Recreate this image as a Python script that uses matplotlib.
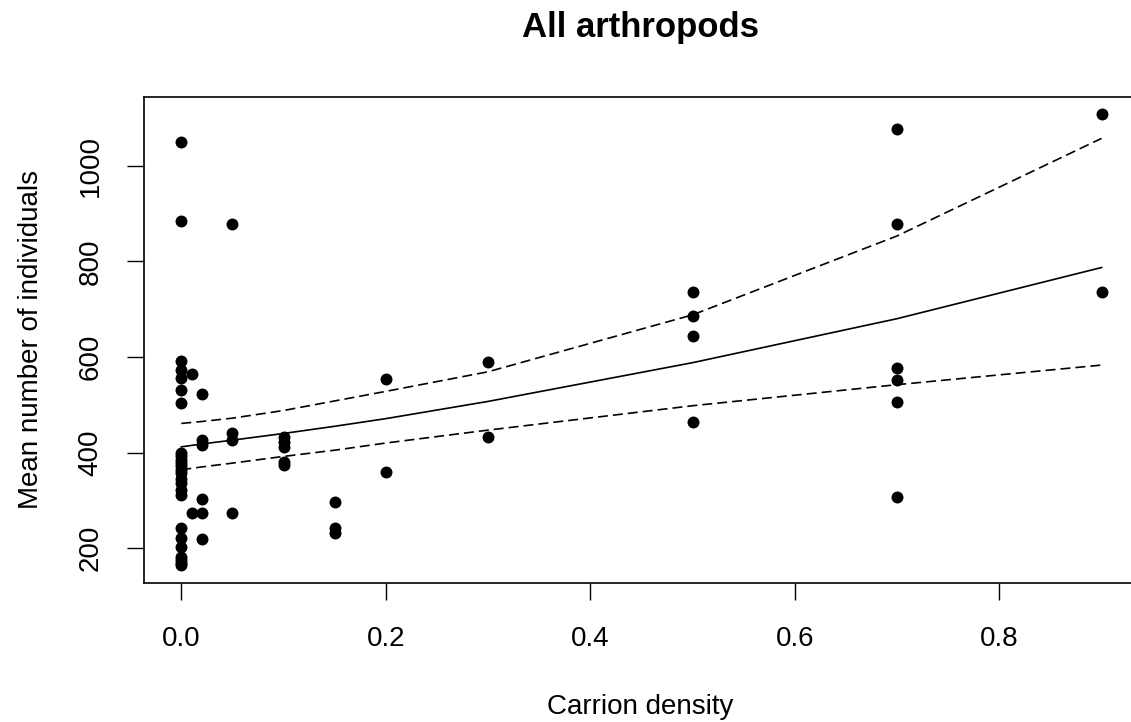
"""All arthropods vs carrion density, with fitted curve and CI."""
import matplotlib.pyplot as plt

plt.rcParams['font.family'] = ['Liberation Sans', 'DejaVu Sans']

# observed points (carrion density, mean number of individuals)
density = [0.0] * 25 + [0.01] * 2 + [0.02] * 6 + [0.05] * 4 + [0.1] * 5 \
    + [0.15] * 3 + [0.2] * 2 + [0.3] * 2 + [0.5] * 4 + [0.7] * 6 + [0.9] * 2
individuals = [
    # 0.0
    1050, 884, 592, 573, 555, 531, 503, 400, 392, 385, 378, 371, 364, 357,
    345, 336, 322, 311, 242, 221, 203, 182, 169, 165, 175,
    # 0.01
    565, 273,
    # 0.02
    522, 426, 416, 303, 273, 219,
    # 0.05
    878, 442, 426, 273,
    # 0.1
    433, 423, 412, 381, 374,
    # 0.15
    296, 242, 231,
    # 0.2
    553, 360,
    # 0.3
    590, 433,
    # 0.5
    736, 686, 644, 465,
    # 0.7
    1077, 878, 576, 552, 506, 308,
    # 0.9
    1108, 736,
]

# fitted curve and confidence band, read at each distinct density
fit_x = [0.0, 0.01, 0.02, 0.05, 0.1, 0.15, 0.2, 0.3, 0.5, 0.7, 0.9]
fit_mid = [412, 415, 418, 426, 440, 455, 471, 507, 588, 680, 787]
fit_low = [364, 367, 370, 378, 392, 405, 420, 447, 498, 542, 583]
fit_high = [461, 463, 465, 472, 488, 508, 528, 569, 688, 853, 1057]

W, H = 1131, 722
fig = plt.figure(figsize=(W / 100, H / 100), dpi=100)
left, right, top, bottom = 144, 1137, 96.6, 583
ax = fig.add_axes([left / W, 1 - bottom / H, (right - left) / W,
                   (bottom - top) / H])

ax.plot(density, individuals, 'o', color='black', markersize=8.6,
        markeredgewidth=0)
ax.plot(fit_x, fit_mid, '-', color='black', lw=1.2)
ax.plot(fit_x, fit_low, color='black', lw=1.2, linestyle=(0, (6, 3)))
ax.plot(fit_x, fit_high, color='black', lw=1.2, linestyle=(0, (6, 3)))

ax.set_xlim(-0.0365, 0.9347)
ax.set_ylim(127.3, 1144.4)
ax.set_xticks([0.0, 0.2, 0.4, 0.6, 0.8])
ax.set_xticklabels(['0.0', '0.2', '0.4', '0.6', '0.8'])
ax.set_yticks([200, 400, 600, 800, 1000])
ax.set_yticklabels(['200', '400', '600', '800', '1000'], rotation=90,
                   va='center')
ax.tick_params(length=12, width=1, pad=17, labelsize=20, colors='black')
ax.tick_params(axis='x', pad=19)
for sp in ax.spines.values():
    sp.set_linewidth(1.2)

fig.text(640.5 / W, 1 - 27 / H, 'All arthropods', ha='center', va='center',
         fontsize=25, fontweight='bold')
fig.text(640.5 / W, 1 - 707.5 / H, 'Carrion density', ha='center',
         va='center', fontsize=20)
fig.text(31 / W, 1 - 340 / H, 'Mean number of individuals', ha='center',
         va='center', rotation=90, fontsize=20)

fig.savefig('out.png', dpi=100)
